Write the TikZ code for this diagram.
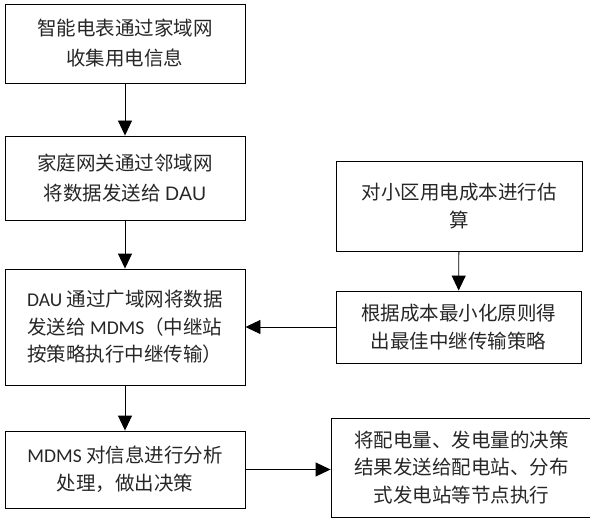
\documentclass[tikz,border=0pt]{standalone}
\usepackage{fontspec}
\setmainfont{Carlito}
\newfontfamily\cjk{Noto Sans CJK SC}
\newfontfamily\lat{Carlito}
\newfontfamily\arial{Liberation Sans}
\usetikzlibrary{arrows.meta}

\begin{document}
\begin{tikzpicture}[x=1pt,y=-1pt,
    box/.style={draw,line width=0.9pt,inner sep=0pt,align=center,text=black!85,
        font=\cjk\fontsize{19.5}{27.5}\selectfont},
    >={Triangle[length=15pt,width=14pt]}]
       \useasboundingbox(0,0)rectangle(590,519);%画布

       \node[box,minimum width=240pt,minimum height=79pt,
           font=\cjk\fontsize{19.5}{30}\selectfont](b1)at(125,43.5)
           {智能电表通过家域网\\收集用电信息};%家域网
       \node[box,minimum width=240pt,minimum height=84pt,
           font=\cjk\fontsize{19.5}{30}\selectfont](b2)at(125,178)
           {家庭网关通过邻域网\\将数据发送给 {\arial DAU}};%邻域网
       \node[box,minimum width=240pt,minimum height=116pt,align=left](b3)at(125,327)
           {{\lat DAU} 通过广域网将数据\\发送给 {\lat MDMS}（中继站\\按策略执行中继传输）};%广域网
       \node[box,minimum width=240pt,minimum height=77pt](b4)at(125,469.5)
           {{\lat MDMS} 对信息进行分析\\处理，做出决策};%决策

       \node[box,minimum width=246pt,minimum height=90pt](r1)at(459,206)
           {对小区用电成本进行估\\算};%估算
       \node[box,minimum width=245pt,minimum height=72pt](r2)at(458.5,327)
           {根据成本最小化原则得\\出最佳中继传输策略};%策略
       \node[box,minimum width=261pt,minimum height=99pt](r3)at(461.5,467.5)
           {将配电量、发电量的决策\\结果发送给配电站、分布\\式发电站等节点执行};%执行

       \draw[line width=0.9pt,->](b1)--(b2);
       \draw[line width=0.9pt,->](b2)--(b3);
       \draw[line width=0.9pt,->](b3)--(b4);
       \draw[line width=0.9pt,->](r1)--(r2);
       \draw[line width=0.9pt,->](r2)--(b3);%策略→DAU
       \draw[line width=0.9pt,->](b4.east)--(b4.east-|r3.west);%决策→执行
\end{tikzpicture}
\end{document}
